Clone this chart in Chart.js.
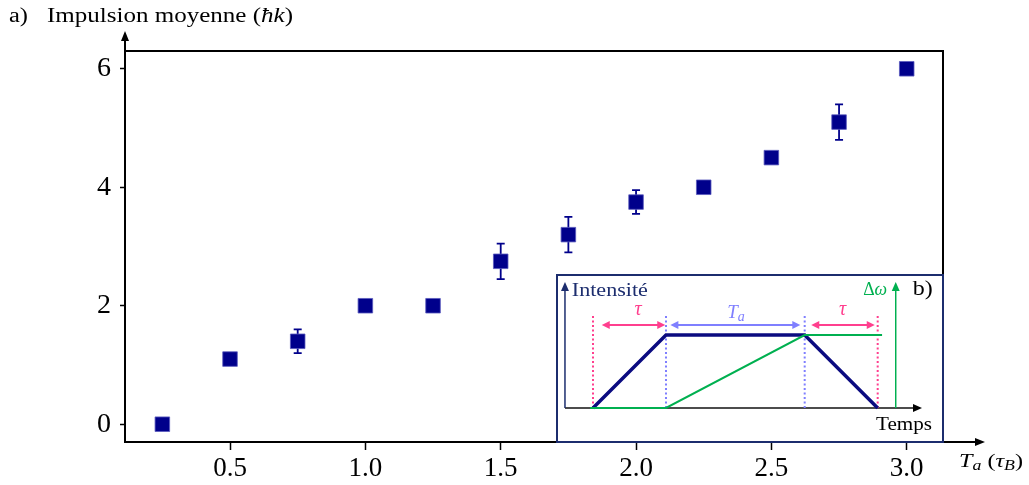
<!DOCTYPE html>
<html>
<head>
<meta charset="utf-8">
<script src="https://cdn.jsdelivr.net/npm/chart.js@4.4.1/dist/chart.umd.min.js"></script>
<style>
    html, body { margin: 0; padding: 0; background: #fff; }
    #wrap { position: relative; width: 1029px; height: 485px; overflow: hidden; }
    #main { position: absolute; left: 0; top: 0; }
    #insetBox { position: absolute; left: 556px; top: 274px; width: 384px; height: 165px;
                border: 2px solid #1c2d6e; background: #fff; }
    #inset { display: block; }
</style>
</head>
<body>
<div id="wrap">
    <canvas id="main" width="1029" height="485"></canvas>
    <div id="insetBox"><canvas id="inset" width="384" height="165"></canvas></div>
</div>
<script>
// a) mean momentum vs ramp time
const rampTimes   = [0.25, 0.5, 0.75, 1.0, 1.25, 1.5, 1.75, 2.0, 2.25, 2.5, 2.75, 3.0];
const momentum    = [0.0, 1.1, 1.4, 2.0, 2.0, 2.75, 3.2, 3.75, 4.0, 4.5, 5.1, 6.0];
const momentumErr = [0, 0, 0.2, 0, 0, 0.3, 0.3, 0.2, 0, 0, 0.3, 0];
const xTicks = [0.5, 1.0, 1.5, 2.0, 2.5, 3.0];
const yTicks = [0, 2, 4, 6];

// b) sketch of the sequence, time in units of tau (tau = 1, Ta = 1.9)
const pulseTimes  = [0, 1, 2.9, 3.9];
const intensity   = [0, 1, 1, 0];
const sweepTimes  = [-0.04, 1, 2.9, 3.96];
const detuning    = [0, 0, 1, 1];
const tauMarks    = [0, 3.9];
const rampMarks   = [1, 2.9];

const NAVY = '#00008b';
const PINK = '#ff3f8e';
const LIGHTBLUE = '#7f7fff';
const GREEN = '#00b050';
const SERIF = '"Liberation Serif", "Times New Roman", serif';

// draw a list of text runs, stretched horizontally to a target width
function drawRuns(ctx, runs, x, y, width, align) {
    let total = 0;
    runs.forEach(r => { ctx.font = r.font; total += ctx.measureText(r.text).width; });
    const sx = width ? width / total : 1;
    ctx.save();
    let start = x;
    if (align === 'right') start = x - total * sx;
    if (align === 'center') start = x - total * sx / 2;
    ctx.translate(start, y);
    ctx.scale(sx, 1);
    ctx.textBaseline = 'alphabetic';
    ctx.textAlign = 'left';
    let cx = 0;
    runs.forEach(r => {
        ctx.font = r.font;
        ctx.fillStyle = r.color || '#000';
        ctx.fillText(r.text, cx, r.dy || 0);
        cx += ctx.measureText(r.text).width;
    });
    ctx.restore();
}

function arrowHead(ctx, x, y, dir, len, half, color) {
    ctx.save();
    ctx.fillStyle = color;
    ctx.beginPath();
    if (dir === 'up') { ctx.moveTo(x, y); ctx.lineTo(x - half, y + len); ctx.lineTo(x + half, y + len); }
    if (dir === 'right') { ctx.moveTo(x, y); ctx.lineTo(x - len, y - half); ctx.lineTo(x - len, y + half); }
    if (dir === 'left') { ctx.moveTo(x, y); ctx.lineTo(x + len, y - half); ctx.lineTo(x + len, y + half); }
    ctx.closePath();
    ctx.fill();
    ctx.restore();
}

// error bars behind the squares
const errorBars = {
    id: 'errorBars',
    beforeDatasetsDraw(chart) {
        const ctx = chart.ctx;
        const xs = chart.scales.x, ys = chart.scales.y;
        ctx.save();
        ctx.strokeStyle = NAVY;
        ctx.lineWidth = 1.8;
        rampTimes.forEach((t, i) => {
            const e = momentumErr[i];
            if (!e) return;
            const px = xs.getPixelForValue(t);
            const top = ys.getPixelForValue(momentum[i] + e);
            const bot = ys.getPixelForValue(momentum[i] - e);
            ctx.beginPath();
            ctx.moveTo(px, top); ctx.lineTo(px, bot);
            ctx.moveTo(px - 4, top); ctx.lineTo(px + 4, top);
            ctx.moveTo(px - 4, bot); ctx.lineTo(px + 4, bot);
            ctx.stroke();
        });
        ctx.restore();
    }
};

// frame, axis arrows and the texts
const frame = {
    id: 'frame',
    afterDraw(chart) {
        const ctx = chart.ctx;
        const a = chart.chartArea;
        ctx.save();
        ctx.strokeStyle = '#000';
        ctx.lineWidth = 2;
        ctx.beginPath();
        ctx.moveTo(a.left, a.top); ctx.lineTo(a.right, a.top); ctx.lineTo(a.right, a.bottom);
        ctx.moveTo(a.left, a.top); ctx.lineTo(a.left, 40);
        ctx.moveTo(a.right, a.bottom); ctx.lineTo(976, a.bottom);
        ctx.stroke();
        ctx.restore();
        arrowHead(ctx, a.left, 31, 'up', 10, 4, '#000');
        arrowHead(ctx, 985, a.bottom, 'right', 10, 4, '#000');

        drawRuns(ctx, [{ text: 'a)', font: '20px ' + SERIF }], 9, 22, 19);
        drawRuns(ctx, [
            { text: 'Impulsion moyenne (', font: '20px ' + SERIF },
            { text: 'ħk', font: 'italic 20px ' + SERIF },
            { text: ')', font: '20px ' + SERIF }
        ], 47, 22, 246);
        drawRuns(ctx, [
            { text: 'T', font: 'italic 19px ' + SERIF },
            { text: 'a', font: 'italic 14px ' + SERIF, dy: 3 },
            { text: ' (', font: '19px ' + SERIF },
            { text: 'τ', font: 'italic 19px ' + SERIF },
            { text: 'B', font: 'italic 14px ' + SERIF, dy: 3 },
            { text: ')', font: '19px ' + SERIF }
        ], 959, 467, 64);
    }
};

new Chart(document.getElementById('main'), {
    type: 'scatter',
    data: {
        datasets: [{
            data: rampTimes.map((t, i) => ({ x: t, y: momentum[i] })),
            pointStyle: 'rect',
            pointRadius: 10.3,
            pointHoverRadius: 10.3,
            backgroundColor: NAVY,
            borderColor: 'rgba(90, 90, 190, 0.8)',
            borderWidth: 1
        }]
    },
    options: {
        responsive: false,
        animation: false,
        devicePixelRatio: 1,
        layout: { padding: { left: 0, top: 51, right: 86, bottom: 0 } },
        plugins: { legend: { display: false }, tooltip: { enabled: false } },
        scales: {
            x: {
                type: 'linear',
                min: 0.112,
                max: 3.134,
                afterBuildTicks: s => { s.ticks = xTicks.map(v => ({ value: v })); },
                afterFit: s => { s.height = 43; },
                ticks: {
                    callback: v => v.toFixed(1),
                    font: { family: 'Liberation Serif', size: 27 },
                    color: '#000',
                    padding: 3,
                    maxRotation: 0,
                    autoSkip: false
                },
                grid: { drawOnChartArea: false, drawTicks: true, tickLength: 8, tickColor: '#000', tickWidth: 1.5 },
                border: { display: true, color: '#000', width: 2 }
            },
            y: {
                type: 'linear',
                min: -0.3,
                max: 6.3,
                afterBuildTicks: s => { s.ticks = yTicks.map(v => ({ value: v })); },
                afterFit: s => { s.width = 125; },
                ticks: {
                    callback: v => String(v),
                    font: { family: 'Liberation Serif', size: 28 },
                    color: '#000',
                    padding: 9
                },
                grid: { drawOnChartArea: false, drawTicks: true, tickLength: 5, tickColor: '#000', tickWidth: 1.5 },
                border: { display: true, color: '#000', width: 2 }
            }
        }
    },
    plugins: [errorBars, frame]
});

// inset b): axes, arrows and labels drawn in data coordinates
const insetDecor = {
    id: 'insetDecor',
    beforeDatasetsDraw(chart) {
        const ctx = chart.ctx;
        const X = v => chart.scales.x.getPixelForValue(v);
        const Y = v => chart.scales.y.getPixelForValue(v);
        ctx.save();
        ctx.lineWidth = 1.5;
        // time axis
        ctx.strokeStyle = '#111';
        ctx.beginPath(); ctx.moveTo(X(-0.384), Y(0)); ctx.lineTo(X(4.4), Y(0)); ctx.stroke();
        arrowHead(ctx, X(4.507), Y(0), 'right', 9, 4, '#000');
        // intensity axis
        ctx.strokeStyle = '#1c2d6e';
        ctx.beginPath(); ctx.moveTo(X(-0.384), Y(0)); ctx.lineTo(X(-0.384), Y(1.62)); ctx.stroke();
        arrowHead(ctx, X(-0.384), Y(1.726), 'up', 9, 4, '#1c2d6e');
        // detuning axis
        ctx.strokeStyle = GREEN;
        ctx.beginPath(); ctx.moveTo(X(4.147), Y(0)); ctx.lineTo(X(4.147), Y(1.62)); ctx.stroke();
        arrowHead(ctx, X(4.147), Y(1.726), 'up', 9, 4, GREEN);
        // dotted markers
        ctx.lineWidth = 2;
        ctx.setLineDash([2, 2.5]);
        tauMarks.forEach(t => {
            ctx.strokeStyle = PINK;
            ctx.beginPath(); ctx.moveTo(X(t), Y(0)); ctx.lineTo(X(t), Y(1.274)); ctx.stroke();
        });
        rampMarks.forEach(t => {
            ctx.strokeStyle = LIGHTBLUE;
            ctx.beginPath(); ctx.moveTo(X(t), Y(0)); ctx.lineTo(X(t), Y(1.274)); ctx.stroke();
        });
        ctx.setLineDash([]);
        // double arrows
        const spans = [
            [tauMarks[0] + 0.12, rampMarks[0] - 0.01, PINK],
            [rampMarks[0] + 0.06, rampMarks[1] - 0.06, LIGHTBLUE],
            [rampMarks[1] + 0.09, tauMarks[1] - 0.04, PINK]
        ];
        spans.forEach(([t0, t1, c]) => {
            const y = Y(1.137);
            ctx.strokeStyle = c;
            ctx.lineWidth = 2;
            ctx.beginPath(); ctx.moveTo(X(t0) + 4, y); ctx.lineTo(X(t1) - 4, y); ctx.stroke();
            arrowHead(ctx, X(t0), y, 'left', 8, 4, c);
            arrowHead(ctx, X(t1), y, 'right', 8, 4, c);
        });
        ctx.restore();

        // labels
        drawRuns(ctx, [{ text: 'τ', font: 'italic 20px ' + SERIF, color: PINK }], X(0.616), Y(1.27), 0, 'center');
        drawRuns(ctx, [{ text: 'τ', font: 'italic 20px ' + SERIF, color: PINK }], X(3.42), Y(1.27), 0, 'center');
        drawRuns(ctx, [
            { text: 'T', font: 'italic 19px ' + SERIF, color: LIGHTBLUE },
            { text: 'a', font: 'italic 14px ' + SERIF, color: LIGHTBLUE, dy: 3 }
        ], X(1.96), Y(1.23), 0, 'center');
        drawRuns(ctx, [{ text: 'Intensité', font: '18px ' + SERIF, color: '#1c2d6e' }], X(-0.29), Y(1.54), 76);
        drawRuns(ctx, [
            { text: 'Δ', font: '18px ' + SERIF, color: GREEN },
            { text: 'ω', font: 'italic 18px ' + SERIF, color: GREEN }
        ], X(4.03), Y(1.55), 24, 'right');
        drawRuns(ctx, [{ text: 'b)', font: '20px ' + SERIF }], X(4.38), Y(1.55), 20);
        drawRuns(ctx, [{ text: 'Temps', font: '18px ' + SERIF }], X(3.877), Y(-0.30), 56);
    }
};

new Chart(document.getElementById('inset'), {
    type: 'scatter',
    data: {
        datasets: [
            {
                data: sweepTimes.map((t, i) => ({ x: t, y: detuning[i] })),
                showLine: true,
                borderColor: GREEN,
                borderWidth: 2,
                pointRadius: 0,
                tension: 0
            },
            {
                data: pulseTimes.map((t, i) => ({ x: t, y: intensity[i] })),
                showLine: true,
                borderColor: '#0b0b80',
                borderWidth: 3.5,
                pointRadius: 0,
                tension: 0
            }
        ]
    },
    options: {
        responsive: false,
        animation: false,
        devicePixelRatio: 1,
        layout: { padding: 0 },
        plugins: { legend: { display: false }, tooltip: { enabled: false } },
        scales: {
            x: { type: 'linear', display: false, min: -0.4795, max: 4.781 },
            y: { type: 'linear', display: false, min: -0.452, max: 1.808 }
        }
    },
    plugins: [insetDecor]
});
</script>
</body>
</html>
